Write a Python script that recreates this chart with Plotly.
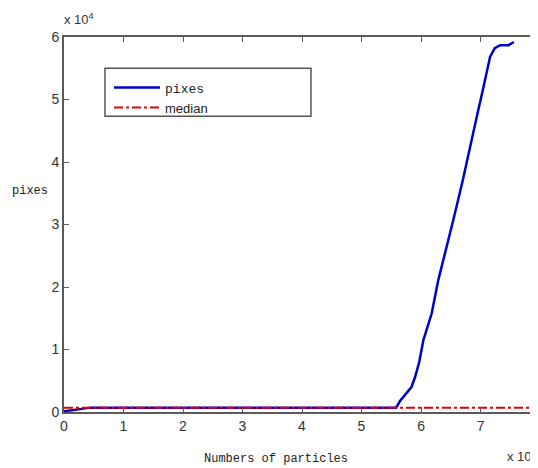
import plotly.graph_objects as go

# data (x in particles, y in pixels)
x_pixes = [0, 1000, 2000, 3000, 4400, 10000, 20000, 30000, 40000, 50000, 55800,
           56500, 57500, 58400, 59000, 59700, 60400, 61800, 62900, 64200, 65500,
           67000, 68500, 69500, 70500, 71600, 72400, 73300, 74700, 75600]
y_pixes = [100, 200, 350, 500, 700, 700, 700, 700, 700, 700, 700,
           1800, 3000, 4000, 5600, 8000, 11500, 15800, 21100, 25900, 31000,
           37000, 43800, 47800, 52000, 56800, 58200, 58700, 58700, 59200]
x_median = [0, 80000]
y_median = [700, 700]

x_tickvals = [0, 10000, 20000, 30000, 40000, 50000, 60000, 70000]
x_ticktext = ["0", "1", "2", "3", "4", "5", "6", "7"]
y_tickvals = [0, 10000, 20000, 30000, 40000, 50000, 60000]
y_ticktext = ["0", "1", "2", "3", "4", "5", "6"]

# page body has an 8px margin, so the figure is drawn 8px smaller
W, H = 530, 460
L, R, T, B = 56, 0, 29, 56
X_MAX = 79660  # the reference clips the axes just before 8e4

fig = go.Figure()
fig.add_trace(go.Scatter(
    x=x_pixes, y=y_pixes, mode="lines",
    line=dict(color="rgb(0,0,205)", width=2.5),
    name='<span style="font-family:Liberation Mono">pixes</span>'))
fig.add_trace(go.Scatter(
    x=x_median, y=y_median, mode="lines",
    line=dict(color="rgb(230,0,0)", width=2, dash="dashdot"),
    name="median"))
# invisible trace to carry right-side ticks
fig.add_trace(go.Scatter(x=[0], y=[0], yaxis="y2", mode="lines",
                         line=dict(width=0), showlegend=False, hoverinfo="skip"))

axis_col = "#5a5a5a"
fig.update_layout(
    width=W, height=H,
    margin=dict(l=L, r=R, t=T, b=B, autoexpand=False),
    paper_bgcolor="white", plot_bgcolor="white",
    font=dict(family="Liberation Sans, Arial, sans-serif", size=13, color="#333333"),
    showlegend=True,
    legend=dict(x=0.095, y=0.905, xanchor="left", yanchor="top",
                bgcolor="rgba(0,0,0,0)", borderwidth=0,
                font=dict(size=13, color="#222222"),
                tracegroupgap=0, itemwidth=46),
    xaxis=dict(range=[0, X_MAX], tickvals=x_tickvals, ticktext=x_ticktext,
               showgrid=False, zeroline=False, showline=True, linecolor=axis_col,
               linewidth=2, mirror="ticks", ticks="inside", ticklen=5,
               tickcolor=axis_col, tickfont=dict(size=14), automargin=False),
    yaxis=dict(range=[0, 60000], tickvals=y_tickvals, ticktext=y_ticktext,
               showgrid=False, zeroline=False, showline=True, linecolor=axis_col,
               linewidth=2, mirror=False, ticks="inside", ticklen=5,
               tickcolor=axis_col, tickfont=dict(size=14), automargin=False),
    yaxis2=dict(range=[0, 60000], overlaying="y", side="right",
                tickvals=y_tickvals, showticklabels=False, showgrid=False,
                zeroline=False, showline=False, ticks="inside", ticklen=5,
                tickcolor=axis_col, automargin=False),
)

# legend box as in the reference
fig.add_shape(type="rect", xref="paper", yref="paper",
              x0=0.0865, x1=0.521, y0=0.789, y1=0.917,
              line=dict(color="#555555", width=1.5), fillcolor="white", layer="below")

# clipped "8" tick label at the right edge
fig.add_annotation(text="8", xref="paper", yref="paper",
                   x=80000 / X_MAX, y=0, xanchor="center", yanchor="top", yshift=-6,
                   showarrow=False, font=dict(size=14, color="#333333"))
fig.add_annotation(text="x 10<sup>4</sup>", xref="paper", yref="paper",
                   x=-0.004, y=1, xanchor="left", yanchor="bottom", yshift=8,
                   showarrow=False, font=dict(size=13, color="#333333"))
fig.add_annotation(text="x 10<sup>4</sup>", xref="paper", yref="paper",
                   x=0.930, y=0, xanchor="left", yanchor="top", yshift=-34,
                   showarrow=False, font=dict(size=13, color="#333333"))
fig.add_annotation(text="Numbers of particles", xref="paper", yref="paper",
                   x=0.447, y=0, xanchor="center", yanchor="top", yshift=-38,
                   showarrow=False,
                   font=dict(family="Liberation Mono, Courier New, monospace",
                             size=12, color="#222222"))
fig.add_annotation(text="pixes", xref="paper", yref="paper",
                   x=0, y=0.59, xanchor="right", yanchor="middle", xshift=-14,
                   showarrow=False,
                   font=dict(family="Liberation Mono, Courier New, monospace",
                             size=12, color="#222222"))

fig.write_html("out.html")
